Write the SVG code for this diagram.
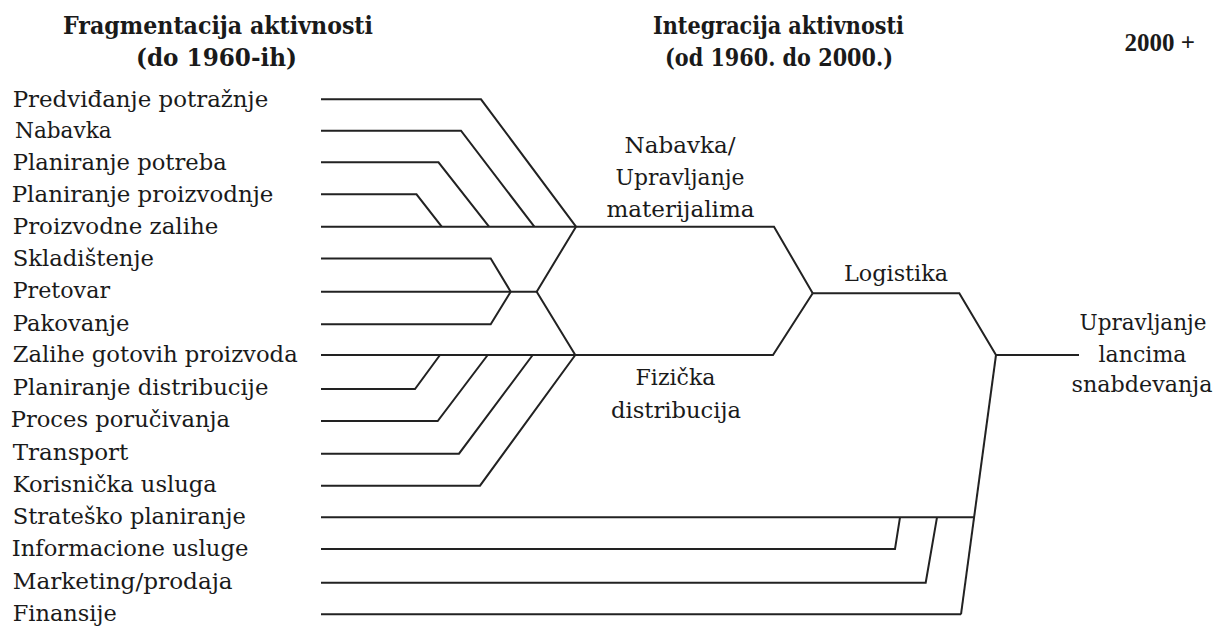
<svg xmlns="http://www.w3.org/2000/svg" width="1216" height="626" viewBox="0 0 1216 626">
  <style>
    .bg { fill: #ffffff; }
    .lbl { font-family: "DejaVu Serif", "Liberation Serif", serif; font-size: 23px; fill: #1a1a1a; }
    .mid { text-anchor: middle; }
    .hdr { font-family: "DejaVu Serif", "Liberation Serif", serif; font-size: 25px; font-weight: bold; fill: #1a1a1a; }
    .hdrc { font-family: "DejaVu Serif Condensed", "DejaVu Serif", serif; font-size: 25px; font-weight: bold; fill: #1a1a1a; }
    .yr { font-family: "Liberation Serif", "DejaVu Serif", serif; font-size: 25px; font-weight: bold; fill: #1a1a1a; text-anchor: end; }
    .wire { fill: none; stroke: #222222; stroke-width: 2; stroke-linejoin: miter; stroke-linecap: butt; }
  </style>
  <rect class="bg" x="0" y="0" width="1216" height="626"/>

  <!-- period headings -->
  <g id="heading-fragmentation">
    <text class="hdr" x="63" y="34" textLength="310" lengthAdjust="spacingAndGlyphs">Fragmentacija aktivnosti</text>
    <text class="hdr" x="136" y="66" textLength="161" lengthAdjust="spacingAndGlyphs">(do 1960-ih)</text>
  </g>
  <g id="heading-integration">
    <text class="hdrc" x="653" y="34" textLength="251" lengthAdjust="spacingAndGlyphs">Integracija aktivnosti</text>
    <text class="hdrc" x="665" y="66" textLength="228" lengthAdjust="spacingAndGlyphs">(od 1960. do 2000.)</text>
  </g>
  <g id="heading-2000">
    <text class="yr" x="1195" y="51">2000 +</text>
  </g>

  <!-- individual activities -->
  <g id="act-predvidjanje"><text class="lbl" x="12.7" y="107" textLength="255.6" lengthAdjust="spacingAndGlyphs">Predviđanje potražnje</text></g>
  <g id="act-nabavka"><text class="lbl" x="15" y="138" textLength="96.7" lengthAdjust="spacingAndGlyphs">Nabavka</text></g>
  <g id="act-planiranje-potreba"><text class="lbl" x="12.7" y="169.5" textLength="214" lengthAdjust="spacingAndGlyphs">Planiranje potreba</text></g>
  <g id="act-planiranje-proizvodnje"><text class="lbl" x="11.7" y="201.5" textLength="261.7" lengthAdjust="spacingAndGlyphs">Planiranje proizvodnje</text></g>
  <g id="act-proizvodne-zalihe"><text class="lbl" x="12.7" y="233.5" textLength="205.7" lengthAdjust="spacingAndGlyphs">Proizvodne zalihe</text></g>
  <g id="act-skladistenje"><text class="lbl" x="12.7" y="265.5" textLength="141.3" lengthAdjust="spacingAndGlyphs">Skladištenje</text></g>
  <g id="act-pretovar"><text class="lbl" x="12.7" y="298" textLength="97.3" lengthAdjust="spacingAndGlyphs">Pretovar</text></g>
  <g id="act-pakovanje"><text class="lbl" x="12.7" y="330.5" textLength="116.7" lengthAdjust="spacingAndGlyphs">Pakovanje</text></g>
  <g id="act-zalihe-gotovih"><text class="lbl" x="12.7" y="362" textLength="285" lengthAdjust="spacingAndGlyphs">Zalihe gotovih proizvoda</text></g>
  <g id="act-planiranje-distribucije"><text class="lbl" x="12.7" y="394.5" textLength="255.7" lengthAdjust="spacingAndGlyphs">Planiranje distribucije</text></g>
  <g id="act-proces-porucivanja"><text class="lbl" x="10.7" y="427" textLength="219.3" lengthAdjust="spacingAndGlyphs">Proces poručivanja</text></g>
  <g id="act-transport"><text class="lbl" x="12.7" y="459.5" textLength="115.7" lengthAdjust="spacingAndGlyphs">Transport</text></g>
  <g id="act-korisnicka-usluga"><text class="lbl" x="12.7" y="491.5" textLength="204" lengthAdjust="spacingAndGlyphs">Korisnička usluga</text></g>
  <g id="act-stratesko-planiranje"><text class="lbl" x="12.7" y="523.5" textLength="233.3" lengthAdjust="spacingAndGlyphs">Strateško planiranje</text></g>
  <g id="act-informacione-usluge"><text class="lbl" x="11.7" y="555.5" textLength="236.7" lengthAdjust="spacingAndGlyphs">Informacione usluge</text></g>
  <g id="act-marketing"><text class="lbl" x="12.7" y="588.5" textLength="220" lengthAdjust="spacingAndGlyphs">Marketing/prodaja</text></g>
  <g id="act-finansije"><text class="lbl" x="12.7" y="621" textLength="104" lengthAdjust="spacingAndGlyphs">Finansije</text></g>

  <!-- integrated functions -->
  <g id="fn-materijali">
    <text class="lbl mid" x="680" y="153" textLength="111" lengthAdjust="spacingAndGlyphs">Nabavka/</text>
    <text class="lbl mid" x="680" y="185" textLength="129" lengthAdjust="spacingAndGlyphs">Upravljanje</text>
    <text class="lbl mid" x="680.5" y="217" textLength="148" lengthAdjust="spacingAndGlyphs">materijalima</text>
  </g>
  <g id="fn-fizicka-distribucija">
    <text class="lbl mid" x="675.5" y="385" textLength="80" lengthAdjust="spacingAndGlyphs">Fizička</text>
    <text class="lbl mid" x="676" y="418" textLength="130" lengthAdjust="spacingAndGlyphs">distribucija</text>
  </g>
  <g id="fn-logistika">
    <text class="lbl mid" x="896" y="281" textLength="104" lengthAdjust="spacingAndGlyphs">Logistika</text>
  </g>
  <g id="fn-scm">
    <text class="lbl mid" x="1143" y="330" textLength="127" lengthAdjust="spacingAndGlyphs">Upravljanje</text>
    <text class="lbl mid" x="1142.5" y="362" textLength="88" lengthAdjust="spacingAndGlyphs">lancima</text>
    <text class="lbl mid" x="1142" y="392" textLength="141" lengthAdjust="spacingAndGlyphs">snabdevanja</text>
  </g>

  <!-- merging connectors -->
  <g id="connectors" class="wire">
    <!-- into materials management -->
    <path d="M321,99.3 H481 L576,226.7"/>
    <path d="M321,130.7 H461 L534.3,226.7"/>
    <path d="M321,162.3 H438.5 L489,226.7"/>
    <path d="M321,194.3 H416.5 L441.7,226.7"/>
    <path d="M321,226.7 H774 L812.7,293.3"/>
    <!-- warehousing cluster -->
    <path d="M321,258.6 H490.7 L510.7,291.7"/>
    <path d="M321,291.7 H536.7"/>
    <path d="M321,324.3 H490.7 L510.7,291.7"/>
    <path d="M576,226.7 L536.7,291.7 L575.3,355"/>
    <!-- into physical distribution -->
    <path d="M321,355 H773 L812.7,293.3"/>
    <path d="M321,389 H415 L440,355"/>
    <path d="M321,421 H437.7 L487.7,355"/>
    <path d="M321,453.7 H459 L532.7,355"/>
    <path d="M321,485.7 H480 L575.3,355"/>
    <!-- logistics to supply chain management -->
    <path d="M812.7,293.3 H959.3 L996,355 H1079"/>
    <path d="M996,355 L961,614.3"/>
    <path d="M321,517.3 H974"/>
    <path d="M321,549 H895 L900,517.3"/>
    <path d="M321,582.7 H925.7 L937,517.3"/>
    <path d="M321,614.3 H961"/>
  </g>
</svg>
